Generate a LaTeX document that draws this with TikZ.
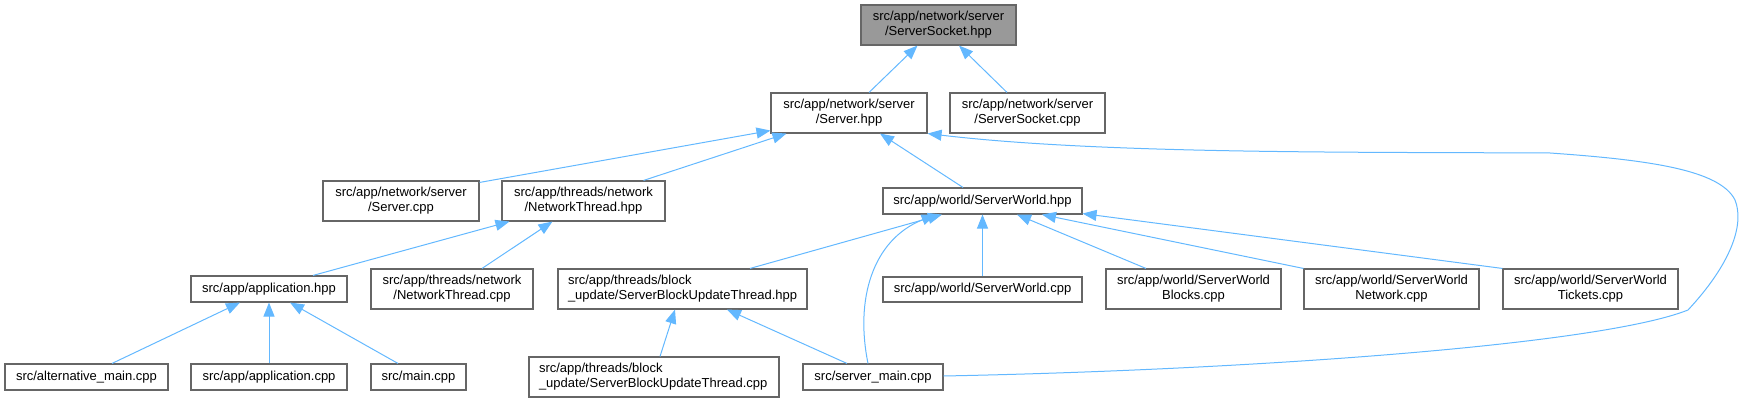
\documentclass[tikz,border=0pt]{standalone}
\usepackage{fontspec}
\setmainfont{Liberation Sans}
\usetikzlibrary{arrows.meta}
\definecolor{edgec}{HTML}{63B8FF}
\definecolor{boxc}{HTML}{666666}
\definecolor{rootc}{HTML}{999999}
\begin{document}
\begin{tikzpicture}[x=1pt,y=-1pt,
  box/.style={draw=boxc, line width=1.1pt, fill=white, inner sep=0pt, align=center,
    font=\fontsize{13}{15}\selectfont},
  rootbox/.style={box, fill=rootc},
  leftbox/.style={box, align=left, inner xsep=10pt},
  edge/.style={draw=edgec, line width=1pt, -{Triangle[length=14pt,width=11pt]}}]
\useasboundingbox (0,0) rectangle (1745,403);

\node[rootbox, minimum width=155pt, minimum height=40pt] (ss) at (938.5,25) {src/app/network/server\\/ServerSocket.hpp};
\node[box, minimum width=156pt, minimum height=40pt] (srv) at (849,113) {src/app/network/server\\/Server.hpp};
\node[box, minimum width=155pt, minimum height=40pt] (sscpp) at (1027.5,113) {src/app/network/server\\/ServerSocket.cpp};
\node[box, minimum width=156pt, minimum height=40pt] (srvcpp) at (401,201) {src/app/network/server\\/Server.cpp};
\node[box, minimum width=163pt, minimum height=40pt] (nth) at (583.5,201) {src/app/threads/network\\/NetworkThread.hpp};
\node[box, minimum width=199pt, minimum height=26pt] (sw) at (982.5,201) {src/app/world/ServerWorld.hpp};
\node[box, minimum width=156pt, minimum height=26pt] (app) at (269,289) {src/app/application.hpp};
\node[box, minimum width=162pt, minimum height=40pt] (ntcpp) at (452,289) {src/app/threads/network\\/NetworkThread.cpp};
\node[leftbox, text width=229pt, minimum width=249pt, minimum height=40pt] (sbut) at (682.5,289) {src/app/threads/block\\\_update/ServerBlockUpdateThread.hpp};
\node[box, minimum width=199pt, minimum height=25pt] (swcpp) at (982.5,289.5) {src/app/world/ServerWorld.cpp};
\node[box, minimum width=175pt, minimum height=40pt] (swb) at (1193.5,289) {src/app/world/ServerWorld\\Blocks.cpp};
\node[box, minimum width=175pt, minimum height=40pt] (swn) at (1391.5,289) {src/app/world/ServerWorld\\Network.cpp};
\node[box, minimum width=175pt, minimum height=40pt] (swt) at (1590.5,289) {src/app/world/ServerWorld\\Tickets.cpp};
\node[box, minimum width=163pt, minimum height=26pt] (alt) at (86.5,377) {src/alternative\_main.cpp};
\node[box, minimum width=156pt, minimum height=26pt] (appcpp) at (269,377) {src/app/application.cpp};
\node[box, minimum width=95pt, minimum height=26pt] (mainc) at (418.5,377) {src/main.cpp};
\node[leftbox, text width=230pt, minimum width=250pt, minimum height=40pt] (sbutcpp) at (654,377) {src/app/threads/block\\\_update/ServerBlockUpdateThread.cpp};
\node[box, minimum width=140pt, minimum height=26pt] (smain) at (873,377) {src/server\_main.cpp};

\draw[edge] ([xshift=20pt]srv.north) -- ([xshift=-21pt]ss.south);
\draw[edge] ([xshift=-20.5pt]sscpp.north) -- ([xshift=20.5pt]ss.south);
\draw[edge] ([yshift=-2pt]srvcpp.north east) -- ([yshift=3pt]srv.south west);
\draw[edge] ([xshift=60pt]nth.north) -- ([xshift=16pt]srv.south west);
\draw[edge] ([xshift=-19.5pt]sw.north) -- ([xshift=31pt]srv.south);
\draw[edge] ([yshift=1pt]smain.east) .. controls (1250,370) and (1600,345) .. (1688,310)
  .. controls (1730,265) and (1745,225) .. (1735,200)
  .. controls (1720,170) and (1650,160) .. (1550,153)
  .. controls (1350,152) and (1100,154) .. (srv.south east);
\draw[edge] ([xshift=44pt]app.north) -- ([xshift=8pt]nth.south west);
\draw[edge] ([xshift=30pt]ntcpp.north) -- ([xshift=51pt]nth.south west);
\draw[edge] ([xshift=25.5pt]alt.north) -- ([xshift=-29pt]app.south);
\draw[edge] (appcpp) -- (app);
\draw[edge] ([xshift=-20.5pt]mainc.north) -- ([xshift=21pt]app.south);
\draw[edge] ([xshift=67.5pt]sbut.north) -- ([xshift=-40.5pt]sw.south);
\draw[edge] ([xshift=-5pt]smain.north) .. controls (855,300) and (872,240) .. ([xshift=-47pt]sw.south);
\draw[edge] (swcpp) -- (sw);
\draw[edge] ([xshift=-47.5pt]swb.north) -- ([xshift=34.5pt]sw.south);
\draw[edge] (swn.north west) -- ([xshift=59.5pt]sw.south);
\draw[edge] (swt.north west) -- ([yshift=1pt]sw.south east);
\draw[edge] ([xshift=6pt]sbutcpp.north) -- ([xshift=-7.5pt]sbut.south);
\draw[edge] ([xshift=-26pt]smain.north) -- ([xshift=44.5pt]sbut.south);
\end{tikzpicture}
\end{document}
